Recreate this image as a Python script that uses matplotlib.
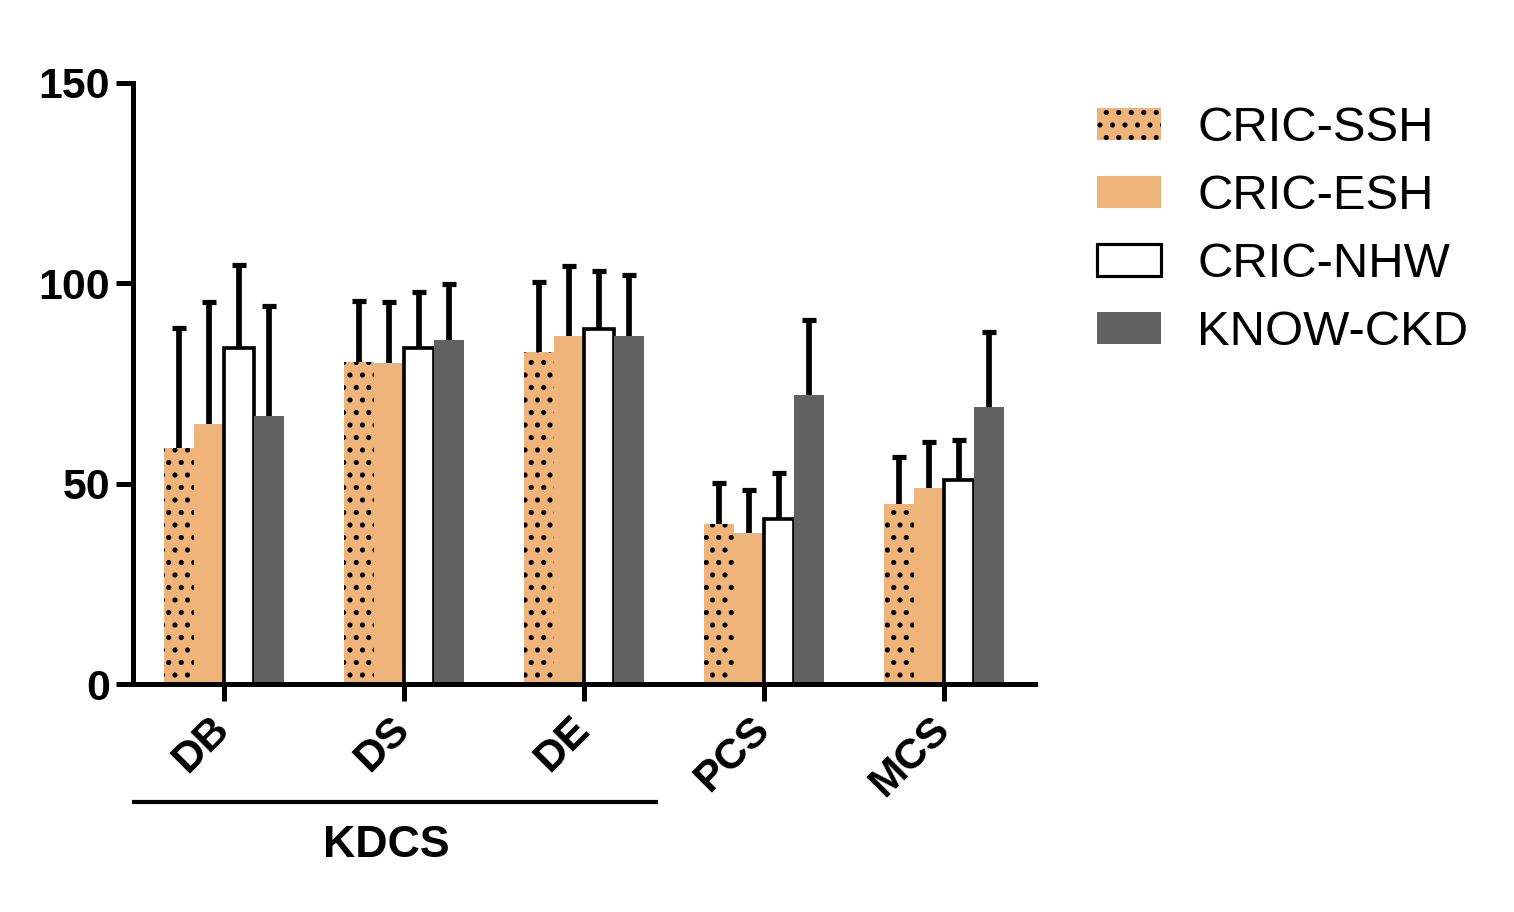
"""Grouped bar chart: KDCS / SF-12 scores by cohort (CRIC vs KNOW-CKD)."""

import numpy as np
import matplotlib

matplotlib.use("Agg")
import matplotlib.pyplot as plt
from matplotlib.patches import Patch
import matplotlib.transforms as mtransforms

# ====== Data ======
categories = ["DB", "DS", "DE", "PCS", "MCS"]
series = ["CRIC-SSH", "CRIC-ESH", "CRIC-NHW", "KNOW-CKD"]

ssh_mean = [58.9, 80.4, 82.9, 39.9, 44.9]
ssh_top = [88.8, 95.6, 100.3, 50.2, 56.6]
esh_mean = [64.9, 80.1, 86.8, 37.7, 48.9]
esh_top = [95.3, 95.3, 104.3, 48.4, 60.4]
nhw_mean = [83.9, 83.9, 88.6, 41.2, 50.9]
nhw_top = [104.6, 97.8, 103.1, 52.7, 60.9]
know_mean = [66.9, 85.8, 86.8, 72.1, 69.1]
know_top = [94.3, 99.8, 102.1, 90.8, 87.8]

yticks = [0, 50, 100, 150]
group_label = "KDCS"
# ==================

ORANGE = "#EEB47A"
GREY = "#626262"
DPI = 75  # hatch tile = dpi px, so 75 gives the right dot spacing

plt.rcParams["font.family"] = ["Liberation Sans", "DejaVu Sans"]
plt.rcParams["hatch.linewidth"] = 2.5

fig = plt.figure(figsize=(1514 / DPI, 912 / DPI), dpi=DPI)
ax = fig.add_axes([133 / 1514, 1 - 684 / 912, (1035 - 133) / 1514, (684 - 83) / 912])

x = np.arange(len(categories))
w = 1 / 6
styles = [
    dict(color=ORANGE, edgecolor="black", linewidth=0, hatch="."),
    dict(color=ORANGE, edgecolor=ORANGE, linewidth=0),
    dict(color="white", edgecolor="black", linewidth=3.5),
    dict(color=GREY, edgecolor=GREY, linewidth=0),
]
means = [ssh_mean, esh_mean, nhw_mean, know_mean]
tops = [ssh_top, esh_top, nhw_top, know_top]

for i, (m, t, st) in enumerate(zip(means, tops, styles)):
    pos = x + (i - 1.5) * w
    m = np.array(m)
    err = np.array(t) - m
    _, caps, _ = ax.errorbar(pos, m, yerr=[np.zeros_like(err), err], fmt="none",
                             ecolor="black", elinewidth=5.5, capsize=7,
                             capthick=5, zorder=1)
    caps[0].set_visible(False)  # only the upper cap, like the original
    ax.bar(pos, m, width=w, zorder=2, **st)

ax.set_xlim(-0.505, 4.505)
ax.set_ylim(0, 150)
ax.set_yticks(yticks)
ax.set_xticks(x)
ax.tick_params(axis="y", labelsize=41, width=4.8, length=16, pad=6)
ax.tick_params(axis="x", width=4.8, length=16, pad=8)
for lab in ax.get_yticklabels():
    lab.set_fontweight("bold")
ax.set_xticklabels(categories, rotation=45, ha="right", va="top",
                   rotation_mode="anchor", fontsize=41, fontweight="bold")
# nudge rotated labels left (tick_params would reset this, so do it last)
shift = mtransforms.ScaledTranslation(-15 / DPI, 0, fig.dpi_scale_trans)
for lab in ax.get_xticklabels():
    lab.set_transform(lab.get_transform() + shift)

for s in ["top", "right"]:
    ax.spines[s].set_visible(False)
for s in ["left", "bottom"]:
    ax.spines[s].set_linewidth(4.8)
    ax.spines[s].set_capstyle("projecting")

# bracket under the KDCS subscales
trans = mtransforms.blended_transform_factory(ax.transData, ax.transAxes)
ax.plot([-0.51, 2.41], [-0.196, -0.196], color="black", lw=4,
        transform=trans, clip_on=False, solid_capstyle="butt")
ax.text(0.9, -0.268, group_label, transform=trans, ha="center", va="center",
        fontsize=43, fontweight="bold")

handles = [Patch(facecolor=ORANGE, edgecolor="black", linewidth=0, hatch="."),
           Patch(facecolor=ORANGE, edgecolor=ORANGE, linewidth=0),
           Patch(facecolor="white", edgecolor="black", linewidth=3),
           Patch(facecolor=GREY, edgecolor=GREY, linewidth=0)]
fig.legend(handles, series, loc="upper left",
           bbox_to_anchor=(1097 / 1514, 1 - 106 / 912), frameon=False,
           fontsize=47, handlelength=1.3, handleheight=0.62,
           handletextpad=0.75, labelspacing=0.47, borderpad=0, borderaxespad=0)

fig.savefig("out.png", dpi=DPI)
